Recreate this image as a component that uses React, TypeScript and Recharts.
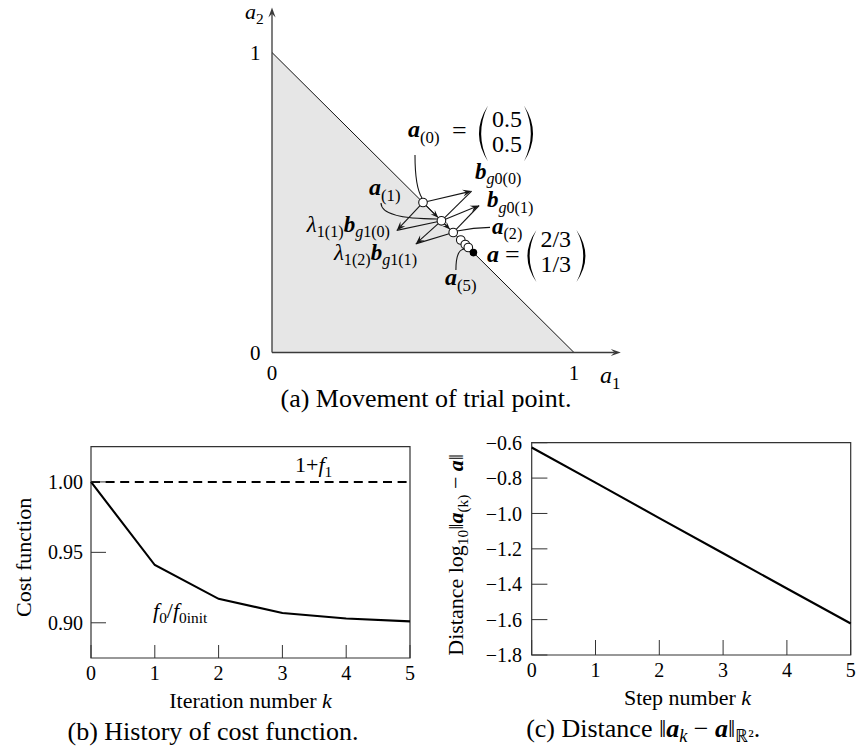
import React from 'react';
import {
  ComposedChart,
  LineChart,
  Line,
  Area,
  Scatter,
  XAxis,
  YAxis,
  ReferenceLine,
  ReferenceDot,
  ReferenceArea,
} from 'recharts';

const FONT = "'Liberation Serif', 'Times New Roman', Times, serif";
const INK = '#151515';

// ---------- (a) movement of trial point ----------
const simplexA1 = [0, 1];
const simplexA2 = [1, 0];
const trialA1 = [0.5, 0.561, 0.6, 0.625, 0.64, 0.65];
const trialA2 = [0.5, 0.439, 0.4, 0.375, 0.36, 0.35];
const optimumA1 = [0.667];
const optimumA2 = [0.333];
const gradObjTipA1 = [0.661, 0.686];
const gradObjTipA2 = [0.538, 0.49];
const gradConTipA1 = [0.413, 0.476];
const gradConTipA2 = [0.407, 0.362];
const ticksA = [0, 1];
const axisEndA1 = 1.155;
const axisEndA2 = 1.15;

// ---------- (b) history of cost function ----------
const iterations = [0, 1, 2, 3, 4, 5];
const costRatio = [1.0, 0.941, 0.917, 0.907, 0.903, 0.901];
const constraintBound = [1, 1, 1, 1, 1, 1];
const costTicks = [0.9, 0.95, 1.0];
const costDomain = [0.875, 1.025];

// ---------- (c) distance ----------
const steps = [0, 1, 2, 3, 4, 5];
const logDistance = [-0.627, -0.826, -1.026, -1.225, -1.424, -1.622];
const distTicks = [-1.8, -1.6, -1.4, -1.2, -1.0, -0.8, -0.6];
const distDomain = [-1.8, -0.6];

const simplexRows = simplexA1.map((a1, i) => ({ a1, a2: simplexA2[i] }));
const trialRows = trialA1.map((a1, i) => ({ a1, a2: trialA2[i] }));
const optimumRows = optimumA1.map((a1, i) => ({ a1, a2: optimumA2[i] }));
const costRows = iterations.map((k, i) => ({ k, cost: costRatio[i], bound: constraintBound[i] }));
const distRows = steps.map((k, i) => ({ k, dist: logDistance[i] }));

type Seg = { t: string; b?: boolean; i?: boolean; s?: 'sub' | 'sup' };

function MathText({
  x,
  y,
  segs,
  size,
  anchor = 'start',
  rotate,
  subShift = 0.24,
}: {
  x: number;
  y: number;
  segs: Seg[];
  size: number;
  anchor?: string;
  rotate?: number;
  subShift?: number;
}) {
  let cur = 0;
  const kids = segs.map((sg, idx) => {
    const target = sg.s === 'sub' ? size * subShift : sg.s === 'sup' ? -size * 0.4 : 0;
    const dy = target - cur;
    cur = target;
    return (
      <tspan
        key={idx}
        dy={dy}
        fontSize={sg.s ? size * 0.7 : size}
        fontWeight={sg.b ? 'bold' : 'normal'}
        fontStyle={sg.i ? 'italic' : 'normal'}
      >
        {sg.t}
      </tspan>
    );
  });
  return (
    <text
      x={x}
      y={y}
      fontFamily={FONT}
      fontSize={size}
      textAnchor={anchor}
      fill="#000"
      stroke="none"
      transform={rotate ? `rotate(${rotate} ${x} ${y})` : undefined}
    >
      {kids}
    </text>
  );
}

function Paren({ x, top, bottom, w, left }: { x: number; top: number; bottom: number; w: number; left: boolean }) {
  const mid = (top + bottom) / 2;
  if (left) {
    const xr = x + w;
    const co = 2 * x - xr;
    const ci = 2 * (x + 2.2) - xr;
    return <path d={`M${xr},${top} Q${co},${mid} ${xr},${bottom} Q${ci},${mid} ${xr},${top} Z`} fill="#000" />;
  }
  const xl = x;
  const xb = x + w;
  const co = 2 * xb - xl;
  const ci = 2 * (xb - 2.2) - xl;
  return <path d={`M${xl},${top} Q${co},${mid} ${xl},${bottom} Q${ci},${mid} ${xl},${top} Z`} fill="#000" />;
}

type SegOpts = {
  head?: boolean;
  trimStart?: number;
  trimEnd?: number;
  bend?: [number, number];
  stroke?: string;
  width?: number;
  headLen?: number;
  headHalf?: number;
};

function segShape(o: SegOpts) {
  return (p: any) => {
    const { x1, y1, x2, y2 } = p;
    if (![x1, y1, x2, y2].every((v) => Number.isFinite(v))) return <g />;
    const stroke = o.stroke ?? INK;
    const w = o.width ?? 1.1;
    if (o.bend) {
      const cx = x1 + o.bend[0] * (x2 - x1);
      const cy = y1 + o.bend[1] * (y2 - y1);
      return <path d={`M${x1},${y1} Q${cx},${cy} ${x2},${y2}`} fill="none" stroke={stroke} strokeWidth={w} />;
    }
    const L = Math.hypot(x2 - x1, y2 - y1) || 1;
    const ux = (x2 - x1) / L;
    const uy = (y2 - y1) / L;
    const ts = o.trimStart ?? 0;
    const te = o.trimEnd ?? 0;
    const sx = x1 + ux * ts;
    const sy = y1 + uy * ts;
    const ex = x2 - ux * te;
    const ey = y2 - uy * te;
    if (!o.head) return <line x1={sx} y1={sy} x2={ex} y2={ey} stroke={stroke} strokeWidth={w} />;
    const hl = o.headLen ?? 9;
    const hw = o.headHalf ?? 3.4;
    const bx = ex - ux * hl;
    const by = ey - uy * hl;
    const nx = -uy;
    const ny = ux;
    const kx = ex - ux * hl * 0.62;
    const ky = ey - uy * hl * 0.62;
    const pts = `${ex},${ey} ${bx + nx * hw},${by + ny * hw} ${kx},${ky} ${bx - nx * hw},${by - ny * hw}`;
    return (
      <g>
        <line x1={sx} y1={sy} x2={kx} y2={ky} stroke={stroke} strokeWidth={w} />
        <polygon points={pts} fill={stroke} />
      </g>
    );
  };
}

const openCircle = (p: any) => <circle cx={p.cx} cy={p.cy} r={4.3} fill="#fff" stroke={INK} strokeWidth={1.1} />;
const filledCircle = (p: any) => <circle cx={p.cx} cy={p.cy} r={3.8} fill="#000" />;

const LS = 23; // label size in (a)

const labelA0 = (p: any) => {
  const { cx, cy } = p;
  return (
    <g>
      <MathText x={cx - 15} y={cy - 65.5} size={24} segs={[{ t: 'a', b: true, i: true }, { t: '(0)', s: 'sub' }]} />
      <MathText x={cx + 29} y={cy - 63.5} size={26} segs={[{ t: '=' }]} />
      <Paren x={cx + 56} top={cy - 97} bottom={cy - 41} w={9} left />
      <MathText x={cx + 69} y={cy - 75.5} size={24} segs={[{ t: '0.5' }]} />
      <MathText x={cx + 69} y={cy - 50.5} size={24} segs={[{ t: '0.5' }]} />
      <Paren x={cx + 101} top={cy - 97} bottom={cy - 41} w={9} left={false} />
    </g>
  );
};
const labelA1 = (p: any) => (
  <MathText x={p.cx - 72.4} y={p.cy - 25.8} size={24} segs={[{ t: 'a', b: true, i: true }, { t: '(1)', s: 'sub' }]} />
);
const labelA2 = (p: any) => (
  <MathText x={p.cx + 38.8} y={p.cy + 1} size={LS} segs={[{ t: 'a', b: true, i: true }, { t: '(2)', s: 'sub' }]} />
);
const labelA5 = (p: any) => (
  <MathText x={p.cx - 23.3} y={p.cy + 37.5} size={24} segs={[{ t: 'a', b: true, i: true }, { t: '(5)', s: 'sub' }]} />
);
const labelBg00 = (p: any) => (
  <MathText x={p.cx + 52} y={p.cy - 24} size={LS} segs={[{ t: 'b', b: true, i: true }, { t: 'g', i: true, s: 'sub' }, { t: '0(0)', s: 'sub' }]} />
);
const labelBg01 = (p: any) => (
  <MathText x={p.cx + 45.6} y={p.cy - 13.5} size={LS} segs={[{ t: 'b', b: true, i: true }, { t: 'g', i: true, s: 'sub' }, { t: '0(1)', s: 'sub' }]} />
);
const labelLam0 = (p: any) => (
  <MathText
    x={p.cx - 33}
    y={p.cy + 29}
    size={LS}
    anchor="end"
    segs={[{ t: 'λ', i: true }, { t: '1(1)', s: 'sub' }, { t: 'b', b: true, i: true }, { t: 'g', i: true, s: 'sub' }, { t: '1(0)', s: 'sub' }]}
  />
);
const labelLam1 = (p: any) => (
  <MathText
    x={p.cx - 24.4}
    y={p.cy + 38.7}
    size={LS}
    anchor="end"
    segs={[{ t: 'λ', i: true }, { t: '1(2)', s: 'sub' }, { t: 'b', b: true, i: true }, { t: 'g', i: true, s: 'sub' }, { t: '1(1)', s: 'sub' }]}
  />
);
const labelOpt = (p: any) => {
  const { cx, cy } = p;
  return (
    <g>
      <MathText x={cx + 13.6} y={cy + 9.4} size={24} segs={[{ t: 'a', b: true, i: true }]} />
      <MathText x={cx + 31.6} y={cy + 10.4} size={26} segs={[{ t: '=' }]} />
      <Paren x={cx + 54} top={cy - 22.6} bottom={cy + 29.4} w={9} left />
      <MathText x={cx + 67} y={cy - 5.6} size={24} segs={[{ t: '2/3' }]} />
      <MathText x={cx + 67} y={cy + 19.4} size={24} segs={[{ t: '1/3' }]} />
      <Paren x={cx + 103} top={cy - 22.6} bottom={cy + 29.4} w={9} left={false} />
    </g>
  );
};

const tickStyleA = { fill: '#000', fontSize: 21, fontFamily: FONT };
const tickStyle = { fill: '#000', fontSize: 20, fontFamily: FONT };
const fmtMinus = (v: number) => (v < 0 ? '\u2212' : '') + Math.abs(v).toFixed(1);

function ChartA() {
  const axisArrow = segShape({ head: true, stroke: '#3a3a3a', width: 1.3, headLen: 10, headHalf: 3.6 });
  const vecArrow = segShape({ head: true, trimStart: 4.3 });
  const moveArrow = segShape({ head: true, trimStart: 4.3, trimEnd: 4.3, headLen: 8, headHalf: 3 });
  const plain = segShape({ trimEnd: 4.3 });
  return (
    <ComposedChart width={440} height={425} data={simplexRows} margin={{ top: 7.5, right: 19.2, bottom: 42.5, left: 42 }}>
      <XAxis
        dataKey="a1"
        type="number"
        domain={[0, axisEndA1]}
        ticks={ticksA}
        allowDataOverflow
        axisLine={false}
        tickLine={false}
        tickMargin={6.6}
        height={30}
        tick={tickStyleA}
        label={{
          content: (props: any) => {
            const vb = props.viewBox ?? { x: 72, y: 352.5, width: 348.8, height: 30 };
            return (
              <g>
                <MathText x={vb.x + 328} y={vb.y + 30.5} size={24} segs={[{ t: 'a', i: true }, { t: '1', s: 'sub' }]} />
                <MathText x={vb.x + 154} y={vb.y + 54.5} size={26} anchor="middle" segs={[{ t: '(a) Movement of trial point.' }]} />
              </g>
            );
          },
        }}
      />
      <YAxis
        dataKey="a2"
        type="number"
        domain={[0, axisEndA2]}
        ticks={ticksA}
        allowDataOverflow
        axisLine={false}
        tickLine={false}
        tickMargin={5.5}
        width={30}
        tick={tickStyleA}
        label={{
          content: (props: any) => {
            const vb = props.viewBox ?? { x: 42, y: 7.5, width: 30, height: 345 };
            return <MathText x={vb.x + 3} y={vb.y + 11.5} size={22} segs={[{ t: 'a', i: true }, { t: '2', s: 'sub' }]} />;
          },
        }}
      />
      <Area
        dataKey="a2"
        type="linear"
        baseValue={0}
        fill="#e6e6e6"
        fillOpacity={1}
        stroke="#111"
        strokeWidth={1}
        dot={false}
        activeDot={false}
        isAnimationActive={false}
      />
      <ReferenceLine ifOverflow="visible" segment={[{ x: 0, y: 0 }, { x: axisEndA1, y: 0 }]} shape={axisArrow} />
      <ReferenceLine ifOverflow="visible" segment={[{ x: 0, y: 0 }, { x: 0, y: axisEndA2 }]} shape={axisArrow} />

      {/* search directions from a(0) and a(1) */}
      {gradObjTipA1.map((tx, i) => (
        <ReferenceLine
          key={`go${i}`}
          ifOverflow="visible"
          segment={[{ x: trialA1[i], y: trialA2[i] }, { x: tx, y: gradObjTipA2[i] }]}
          shape={vecArrow}
        />
      ))}
      {gradConTipA1.map((tx, i) => (
        <ReferenceLine
          key={`gc${i}`}
          ifOverflow="visible"
          segment={[{ x: trialA1[i], y: trialA2[i] }, { x: tx, y: gradConTipA2[i] }]}
          shape={vecArrow}
        />
      ))}
      {gradObjTipA1.map((tx, i) => (
        <ReferenceLine
          key={`po${i}`}
          ifOverflow="visible"
          segment={[{ x: tx, y: gradObjTipA2[i] }, { x: trialA1[i + 1], y: trialA2[i + 1] }]}
          shape={plain}
        />
      ))}
      {gradConTipA1.map((tx, i) => (
        <ReferenceLine
          key={`pc${i}`}
          ifOverflow="visible"
          segment={[{ x: tx, y: gradConTipA2[i] }, { x: trialA1[i + 1], y: trialA2[i + 1] }]}
          shape={plain}
        />
      ))}
      {[0, 1].map((i) => (
        <ReferenceLine
          key={`mv${i}`}
          ifOverflow="visible"
          segment={[{ x: trialA1[i], y: trialA2[i] }, { x: trialA1[i + 1], y: trialA2[i + 1] }]}
          shape={moveArrow}
        />
      ))}

      {/* leader lines for labels */}
      <ReferenceLine ifOverflow="visible" segment={[{ x: 0.4735, y: 0.658 }, { x: 0.4967, y: 0.515 }]} shape={segShape({ bend: [0, 0.75] })} />
      <ReferenceLine ifOverflow="visible" segment={[{ x: 0.361, y: 0.498 }, { x: 0.546, y: 0.445 }]} shape={segShape({ bend: [0, 1] })} />
      <ReferenceLine ifOverflow="visible" segment={[{ x: 0.722, y: 0.417 }, { x: 0.6126, y: 0.405 }]} shape={segShape({ bend: [0.5, 0] })} />
      <ReferenceLine ifOverflow="visible" segment={[{ x: 0.609, y: 0.275 }, { x: 0.638, y: 0.345 }]} shape={segShape({ bend: [0, 1] })} />

      <Scatter data={trialRows} dataKey="a2" shape={openCircle} isAnimationActive={false} />
      <Scatter data={optimumRows} dataKey="a2" shape={filledCircle} isAnimationActive={false} />

      <ReferenceDot ifOverflow="visible" x={trialA1[0]} y={trialA2[0]} r={0} shape={labelA0} />
      <ReferenceDot ifOverflow="visible" x={trialA1[0]} y={trialA2[0]} r={0} shape={labelBg00} />
      <ReferenceDot ifOverflow="visible" x={trialA1[0]} y={trialA2[0]} r={0} shape={labelLam0} />
      <ReferenceDot ifOverflow="visible" x={trialA1[1]} y={trialA2[1]} r={0} shape={labelA1} />
      <ReferenceDot ifOverflow="visible" x={trialA1[1]} y={trialA2[1]} r={0} shape={labelBg01} />
      <ReferenceDot ifOverflow="visible" x={trialA1[1]} y={trialA2[1]} r={0} shape={labelLam1} />
      <ReferenceDot ifOverflow="visible" x={trialA1[2]} y={trialA2[2]} r={0} shape={labelA2} />
      <ReferenceDot ifOverflow="visible" x={trialA1[5]} y={trialA2[5]} r={0} shape={labelA5} />
      <ReferenceDot ifOverflow="visible" x={optimumA1[0]} y={optimumA2[0]} r={0} shape={labelOpt} />
    </ComposedChart>
  );
}

function ChartB() {
  return (
    <LineChart width={430} height={327} data={costRows} margin={{ top: 21.7, right: 20, bottom: 34, left: 0 }}>
      <XAxis
        dataKey="k"
        type="number"
        domain={[0, 5]}
        ticks={iterations}
        interval={0}
        axisLine={false}
        stroke="#333"
        tickSize={-13}
        tickMargin={20.8}
        height={60}
        tick={tickStyle}
        label={{
          content: (props: any) => {
            const vb = props.viewBox ?? { x: 91, y: 233, width: 319, height: 60 };
            const c = vb.x + vb.width / 2;
            return (
              <g>
                <MathText x={c} y={vb.y + 50} size={22} anchor="middle" segs={[{ t: 'Iteration number ' }, { t: 'k', i: true }]} />
                <MathText x={c - 37.5} y={vb.y + 82} size={26} anchor="middle" segs={[{ t: '(b) History of cost function.' }]} />
              </g>
            );
          },
        }}
      />
      <YAxis
        type="number"
        domain={costDomain}
        ticks={costTicks}
        interval={0}
        allowDataOverflow
        axisLine={false}
        stroke="#333"
        tickSize={-15}
        tickMargin={23}
        width={91}
        tick={tickStyle}
        tickFormatter={(v: number) => v.toFixed(2)}
        label={{
          content: (props: any) => {
            const vb = props.viewBox ?? { x: 0, y: 21.7, width: 91, height: 211.3 };
            return <MathText x={vb.x + 31} y={vb.y + vb.height / 2 + 5} size={22} anchor="middle" rotate={-90} segs={[{ t: 'Cost function' }]} />;
          },
        }}
      />
      <ReferenceArea x1={0} x2={5} y1={costDomain[0]} y2={costDomain[1]} fill="none" stroke="#333" strokeWidth={1.2} ifOverflow="visible" />
      <Line dataKey="bound" stroke="#000" strokeWidth={2} strokeDasharray="9 5.6" dot={false} activeDot={false} isAnimationActive={false} />
      <Line dataKey="cost" stroke="#000" strokeWidth={2.1} dot={false} activeDot={false} isAnimationActive={false} />
      <ReferenceDot
        ifOverflow="visible"
        x={3}
        y={1}
        r={0}
        shape={(p: any) => (
          <MathText x={p.cx + 12.6} y={p.cy - 10} size={22} segs={[{ t: '1+' }, { t: 'f', i: true }, { t: '1', s: 'sub' }]} />
        )}
      />
      <ReferenceDot
        ifOverflow="visible"
        x={1}
        y={0.9}
        r={0}
        shape={(p: any) => (
          <MathText
            x={p.cx - 1.8}
            y={p.cy - 5}
            size={22}
            segs={[{ t: 'f', i: true }, { t: '0', s: 'sub' }, { t: '/' }, { t: 'f', i: true }, { t: '0init', s: 'sub' }]}
          />
        )}
      />
    </LineChart>
  );
}

function ChartC() {
  return (
    <LineChart width={426} height={327} data={distRows} margin={{ top: 17.7, right: 5.3, bottom: 37, left: 0 }}>
      <XAxis
        dataKey="k"
        type="number"
        domain={[0, 5]}
        ticks={steps}
        interval={0}
        axisLine={false}
        stroke="#333"
        tickSize={-15}
        tickMargin={22.8}
        height={60}
        tick={tickStyle}
        label={{
          content: (props: any) => {
            const vb = props.viewBox ?? { x: 101.7, y: 230, width: 319, height: 60 };
            const c = vb.x + vb.width / 2;
            return (
              <g>
                <MathText x={c - 3.7} y={vb.y + 50} size={22} anchor="middle" segs={[{ t: 'Step number ' }, { t: 'k', i: true }]} />
                <MathText
                  x={c - 48}
                  y={vb.y + 82}
                  size={26}
                  anchor="middle"
                  subShift={0.2}
                  segs={[
                    { t: '(c) Distance \u2016' },
                    { t: 'a', b: true, i: true },
                    { t: 'k', i: true, s: 'sub' },
                    { t: ' \u2212 ' },
                    { t: 'a', b: true, i: true },
                    { t: '\u2016' },
                    { t: '\u211D\u00B2', s: 'sub' },
                    { t: '.' },
                  ]}
                />
              </g>
            );
          },
        }}
      />
      <YAxis
        type="number"
        domain={distDomain}
        ticks={distTicks}
        interval={0}
        allowDataOverflow
        axisLine={false}
        stroke="#333"
        tickSize={-15.7}
        tickMargin={25.4}
        width={101.7}
        tick={tickStyle}
        tickFormatter={fmtMinus}
        label={{
          content: (props: any) => {
            const vb = props.viewBox ?? { x: 0, y: 17.7, width: 101.7, height: 212.3 };
            return (
              <MathText
                x={vb.x + 33}
                y={vb.y + vb.height / 2 + 6}
                size={22}
                anchor="middle"
                rotate={-90}
                segs={[
                  { t: 'Distance log' },
                  { t: '10', s: 'sub' },
                  { t: '\u2016' },
                  { t: 'a', b: true, i: true },
                  { t: '(k)', s: 'sub' },
                  { t: ' \u2212 ' },
                  { t: 'a', b: true, i: true },
                  { t: '\u2016' },
                ]}
              />
            );
          },
        }}
      />
      <ReferenceArea x1={0} x2={5} y1={distDomain[0]} y2={distDomain[1]} fill="none" stroke="#333" strokeWidth={1.2} ifOverflow="visible" />
      <Line dataKey="dist" stroke="#000" strokeWidth={2.1} dot={false} activeDot={false} isAnimationActive={false} />
    </LineChart>
  );
}

export default function App() {
  return (
    <div style={{ position: 'absolute', left: 0, top: 0, width: 856, height: 752, background: '#fff', overflow: 'hidden' }}>
      <div style={{ position: 'absolute', left: 200, top: 0 }}>
        <ChartA />
      </div>
      <div style={{ position: 'absolute', left: 0, top: 425 }}>
        <ChartB />
      </div>
      <div style={{ position: 'absolute', left: 430, top: 425 }}>
        <ChartC />
      </div>
    </div>
  );
}
